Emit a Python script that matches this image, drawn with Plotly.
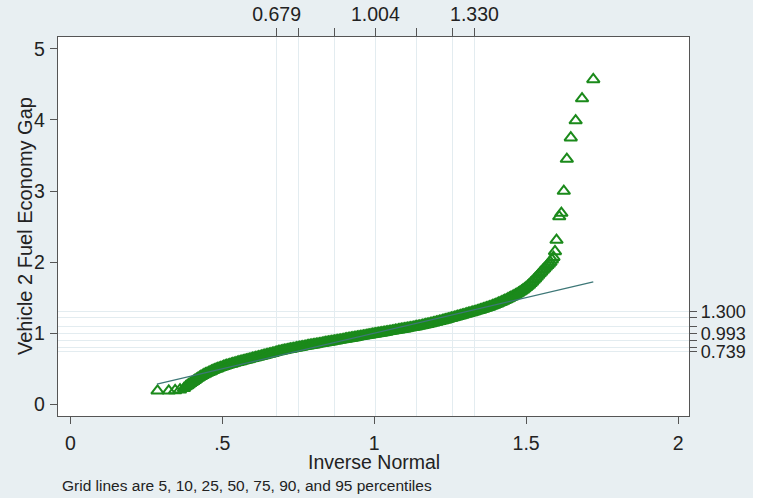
import plotly.graph_objects as go

# ---- data ----
# lower tail (isolated triangles)
low_x = [0.287, 0.324, 0.345, 0.361, 0.374]
low_y = [0.190, 0.190, 0.195, 0.205, 0.225]

# dense central band: inverse-normal quantile (x) and sorted gap (y)
band_x = [
    0.380, 0.385, 0.390, 0.395, 0.400, 0.405, 0.410, 0.415, 0.420, 0.425,
    0.430, 0.435, 0.440, 0.445, 0.450, 0.455, 0.460, 0.465, 0.470, 0.475,
    0.480, 0.485, 0.490, 0.495, 0.500, 0.505, 0.510, 0.515, 0.520, 0.525,
    0.530, 0.535, 0.540, 0.545, 0.550, 0.555, 0.560, 0.565, 0.570, 0.575,
    0.580, 0.585, 0.590, 0.595, 0.600, 0.605, 0.610, 0.615, 0.620, 0.625,
    0.630, 0.635, 0.640, 0.645, 0.650, 0.655, 0.660, 0.665, 0.670, 0.675,
    0.680, 0.685, 0.690, 0.695, 0.700, 0.705, 0.710, 0.715, 0.720, 0.725,
    0.730, 0.735, 0.740, 0.745, 0.750, 0.755, 0.760, 0.765, 0.770, 0.775,
    0.780, 0.785, 0.790, 0.795, 0.800, 0.805, 0.810, 0.815, 0.820, 0.825,
    0.830, 0.835, 0.840, 0.845, 0.850, 0.855, 0.860, 0.865, 0.870, 0.875,
    0.880, 0.885, 0.890, 0.895, 0.900, 0.905, 0.910, 0.915, 0.920, 0.925,
    0.930, 0.935, 0.940, 0.945, 0.950, 0.955, 0.960, 0.965, 0.970, 0.975,
    0.980, 0.985, 0.990, 0.995, 1.000, 1.005, 1.010, 1.015, 1.020, 1.025,
    1.030, 1.035, 1.040, 1.045, 1.050, 1.055, 1.060, 1.065, 1.070, 1.075,
    1.080, 1.085, 1.090, 1.095, 1.100, 1.105, 1.110, 1.115, 1.120, 1.125,
    1.130, 1.135, 1.140, 1.145, 1.150, 1.155, 1.160, 1.165, 1.170, 1.175,
    1.180, 1.185, 1.190, 1.195, 1.200, 1.205, 1.210, 1.215, 1.220, 1.225,
    1.230, 1.235, 1.240, 1.245, 1.250, 1.255, 1.260, 1.265, 1.270, 1.275,
    1.280, 1.285, 1.290, 1.295, 1.300, 1.305, 1.310, 1.315, 1.320, 1.325,
    1.330, 1.335, 1.340, 1.345, 1.350, 1.355, 1.360, 1.365, 1.370, 1.375,
    1.380, 1.385, 1.390, 1.395, 1.400, 1.405, 1.410, 1.415, 1.420, 1.425,
    1.430, 1.435, 1.440, 1.445, 1.450, 1.455, 1.460, 1.465, 1.470, 1.475,
    1.480, 1.485, 1.490, 1.495, 1.500, 1.505, 1.510, 1.515, 1.520, 1.525,
    1.530, 1.535, 1.540, 1.545, 1.550, 1.555, 1.560, 1.565, 1.570, 1.575,
    1.580, 1.585, 1.590,
]
band_y = [
    0.250, 0.265, 0.280, 0.295, 0.310, 0.325, 0.340, 0.355, 0.370, 0.383,
    0.395, 0.408, 0.420, 0.430, 0.440, 0.450, 0.460, 0.470, 0.480, 0.489,
    0.497, 0.505, 0.513, 0.521, 0.528, 0.536, 0.543, 0.550, 0.556, 0.563,
    0.569, 0.575, 0.581, 0.587, 0.593, 0.599, 0.604, 0.610, 0.615, 0.621,
    0.626, 0.632, 0.637, 0.643, 0.648, 0.654, 0.659, 0.665, 0.670, 0.676,
    0.681, 0.687, 0.692, 0.698, 0.703, 0.709, 0.714, 0.720, 0.725, 0.732,
    0.738, 0.743, 0.748, 0.753, 0.757, 0.762, 0.766, 0.771, 0.775, 0.779,
    0.783, 0.788, 0.792, 0.796, 0.800, 0.804, 0.808, 0.812, 0.816, 0.820,
    0.824, 0.828, 0.832, 0.835, 0.839, 0.843, 0.847, 0.851, 0.855, 0.858,
    0.862, 0.866, 0.870, 0.874, 0.878, 0.881, 0.885, 0.889, 0.893, 0.896,
    0.900, 0.904, 0.908, 0.911, 0.915, 0.919, 0.923, 0.926, 0.930, 0.934,
    0.938, 0.941, 0.945, 0.949, 0.953, 0.956, 0.960, 0.963, 0.967, 0.971,
    0.975, 0.978, 0.982, 0.986, 0.990, 0.993, 0.997, 1.001, 1.005, 1.008,
    1.012, 1.015, 1.019, 1.023, 1.027, 1.030, 1.034, 1.038, 1.042, 1.045,
    1.049, 1.053, 1.057, 1.060, 1.064, 1.068, 1.072, 1.076, 1.080, 1.083,
    1.087, 1.091, 1.095, 1.100, 1.104, 1.108, 1.113, 1.118, 1.123, 1.128,
    1.133, 1.138, 1.143, 1.148, 1.153, 1.158, 1.164, 1.169, 1.175, 1.180,
    1.186, 1.191, 1.197, 1.203, 1.209, 1.215, 1.221, 1.227, 1.233, 1.239,
    1.245, 1.251, 1.257, 1.263, 1.269, 1.275, 1.281, 1.287, 1.293, 1.299,
    1.305, 1.311, 1.318, 1.324, 1.331, 1.338, 1.345, 1.352, 1.359, 1.366,
    1.374, 1.382, 1.390, 1.398, 1.407, 1.416, 1.425, 1.434, 1.444, 1.454,
    1.464, 1.474, 1.485, 1.496, 1.507, 1.518, 1.530, 1.542, 1.555, 1.568,
    1.582, 1.597, 1.612, 1.628, 1.645, 1.664, 1.683, 1.704, 1.725, 1.747,
    1.770, 1.794, 1.818, 1.842, 1.866, 1.889, 1.912, 1.934, 1.956, 1.978,
    2.000, 2.035, 2.070,
]

# upper tail (isolated triangles)
high_x = [1.595, 1.600, 1.609, 1.616, 1.624, 1.634, 1.647, 1.663, 1.684, 1.721]
high_y = [2.15, 2.31, 2.64, 2.69, 3.00, 3.45, 3.75, 3.99, 4.30, 4.57]

# reference line y = x between the extreme inverse-normal values
ref_line = [0.285, 1.721]

# percentile grid (5, 10, 25, 50, 75, 90, 95)
pct_x = [0.679, 0.750, 0.870, 1.004, 1.138, 1.258, 1.330]
pct_x_labels = ["0.679", "", "", "1.004", "", "", "1.330"]
pct_y = [0.739, 0.800, 0.893, 0.993, 1.092, 1.222, 1.300]
pct_y_labels = ["0.739", "", "", "0.993", "", "", "1.300"]

x_ticks = [0, 0.5, 1, 1.5, 2]
x_tick_labels = ["0", ".5", "1", "1.5", "2"]
y_ticks = [0, 1, 2, 3, 4, 5]
y_tick_labels = ["0", "1", "2", "3", "4", "5"]

x_title = "Inverse Normal"
y_title = "Vehicle 2 Fuel Economy Gap"
note = "Grid lines are 5, 10, 25, 50, 75, 90, and 95 percentiles"

# ---- styling ----
BG = "#e8eff2"
GRID = "#e3ecf0"
AXIS = "#555555"
TXT = "#222222"
GREEN = "#1b8a1b"
LINE = "#3d7777"
FONT = "Liberation Sans, Arial, sans-serif"

# plot area in page pixels
PL, PR, PT, PB = 58, 689, 37, 416
W, H = 766, 502


def px_x(px):
    return (px - PL) / (PR - PL)


def px_y(py):
    return (PB - py) / (PB - PT)


XR = [-0.0405, 2.036]
YR = [-0.164, 5.166]

all_x = low_x + band_x + high_x
all_y = low_y + band_y + high_y

fig = go.Figure()
fig.add_trace(go.Scatter(
    x=all_x, y=all_y, mode="markers",
    marker=dict(symbol="triangle-up-open", size=11, color=GREEN,
                line=dict(width=2.0, color=GREEN)),
    showlegend=False, hoverinfo="skip",
))
fig.add_trace(go.Scatter(
    x=ref_line, y=ref_line, mode="lines",
    line=dict(color=LINE, width=1.3),
    showlegend=False, hoverinfo="skip",
))
# anchor trace for the percentile axes
fig.add_trace(go.Scatter(
    x=[None], y=[None], xaxis="x2", yaxis="y2", mode="markers",
    showlegend=False, hoverinfo="skip",
))

fig.update_layout(
    width=W, height=H,
    margin=dict(l=PL, r=W - PR, t=PT, b=H - PB),
    paper_bgcolor=BG, plot_bgcolor="white",
    font=dict(family=FONT, size=18, color=TXT),
    xaxis=dict(
        range=XR, tickmode="array", tickvals=x_ticks, ticktext=x_tick_labels,
        showgrid=False, zeroline=False, showline=True, linecolor=AXIS, linewidth=1.3,
        ticks="outside", ticklen=7, tickwidth=1.1, tickcolor=AXIS, automargin=False,
        tickfont=dict(size=19.5, color=TXT), ticklabelstandoff=2,
    ),
    yaxis=dict(
        range=YR, tickmode="array", tickvals=y_ticks, ticktext=y_tick_labels,
        showgrid=False, zeroline=False, showline=True, linecolor=AXIS, linewidth=1.3,
        ticks="outside", ticklen=7, tickwidth=1.1, tickcolor=AXIS, automargin=False,
        tickfont=dict(size=19.5, color=TXT), ticklabelstandoff=1,
    ),
    xaxis2=dict(
        overlaying="x", side="top", range=XR, anchor="y",
        tickmode="array", tickvals=pct_x, ticktext=pct_x_labels,
        showgrid=True, gridcolor=GRID, gridwidth=1.2, zeroline=False,
        showline=True, linecolor=AXIS, linewidth=1.3, automargin=False,
        ticks="outside", ticklen=8, tickwidth=1.1, tickcolor=AXIS,
        tickfont=dict(size=19.5, color=TXT), ticklabelstandoff=-1,
    ),
    yaxis2=dict(
        overlaying="y", side="right", range=YR, anchor="x",
        tickmode="array", tickvals=pct_y, ticktext=pct_y_labels,
        showgrid=True, gridcolor=GRID, gridwidth=1.2, zeroline=False,
        showline=True, linecolor=AXIS, linewidth=1.3, automargin=False,
        ticks="outside", ticklen=7, tickwidth=1.1, tickcolor=AXIS,
        tickfont=dict(size=18, color=TXT), ticklabelstandoff=0,
    ),
    annotations=[
        dict(text=x_title, xref="paper", yref="paper", x=px_x(374), y=px_y(462),
             xanchor="center", yanchor="middle", showarrow=False,
             font=dict(size=19.5, color=TXT)),
        dict(text=y_title, xref="paper", yref="paper", x=px_x(25), y=px_y(226),
             xanchor="center", yanchor="middle", showarrow=False, textangle=-90,
             font=dict(size=20, color=TXT)),
        dict(text=note, xref="paper", yref="paper", x=px_x(60), y=px_y(485),
             xanchor="left", yanchor="middle", showarrow=False,
             font=dict(size=15.5, color=TXT)),
    ],
    shapes=[
        dict(type="rect", xref="paper", yref="paper", layer="below",
             x0=px_x(753), x1=px_x(790), y0=px_y(520), y1=px_y(-20),
             fillcolor="white", line=dict(width=0)),
        dict(type="rect", xref="paper", yref="paper", layer="below",
             x0=px_x(-20), x1=px_x(790), y0=px_y(520), y1=px_y(498),
             fillcolor="white", line=dict(width=0)),
    ],
)

fig.write_html(
    "out.html",
    config={"displayModeBar": False},
    post_script="document.body.style.margin='0';document.body.style.padding='0';",
)
